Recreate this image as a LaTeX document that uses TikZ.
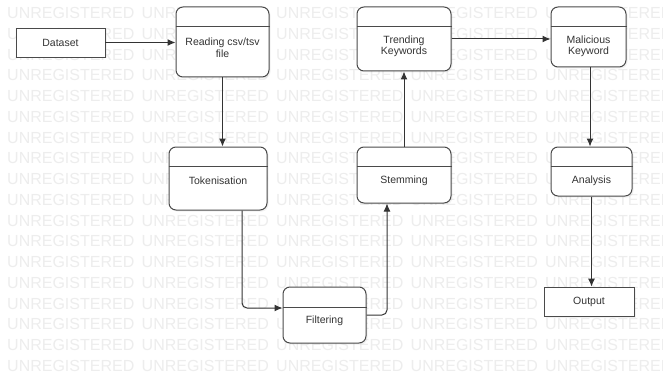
\documentclass[tikz,border=0pt]{standalone}
\usepackage{fontspec}
\setmainfont{Liberation Sans}
\usetikzlibrary{arrows.meta,calc,shadows}
\definecolor{linec}{HTML}{4A4A4A}
\definecolor{txtc}{HTML}{333333}
\definecolor{wmc}{HTML}{EDEDED}
\tikzset{
  procbox/.style={draw=linec, line width=1pt, fill=white, rounded corners=7pt, inner sep=0pt,
    drop shadow={opacity=0.10, shadow xshift=1.5pt, shadow yshift=-1.5pt}},
  plainbox/.style={draw=linec, line width=0.9pt, fill=white, inner sep=0pt,
    drop shadow={opacity=0.10, shadow xshift=1.5pt, shadow yshift=-1.5pt}},
  lbl/.style={text=txtc, font=\fontsize{10.5}{11.5}\selectfont, align=center, inner sep=0pt},
  divider/.style={draw=linec, line width=0.9pt},
  arr/.style={draw=txtc, line width=1pt, -{Latex[length=8pt,width=7pt]}},
  wmark/.style={text=wmc, font=\fontsize{16}{16}\selectfont, anchor=west, inner sep=0pt}
}
\begin{document}
\begin{tikzpicture}[x=1pt,y=-1pt]
\useasboundingbox (0,0) rectangle (663,377);
\fill[white] (0,0) rectangle (663,377);
\begin{scope}
\clip (0,0) rectangle (663,377);
\foreach \i in {0,...,17}{
  \foreach \j in {0,...,4}{
    \node[wmark] (wm-\i-\j) at ({7+134.5*\j},{13+20.75*\i}) {UNREGISTERED};
  }
}
\end{scope}

% boxes
\node[plainbox, minimum width=89pt, minimum height=29pt] (data) at (60.5,42.5) {};
\node[procbox, minimum width=93pt, minimum height=70pt] (read) at (222.5,42) {};
\node[procbox, minimum width=98pt, minimum height=63pt] (tok) at (218,178.5) {};
\node[procbox, minimum width=83pt, minimum height=56pt] (filt) at (324.5,315) {};
\node[procbox, minimum width=94pt, minimum height=56pt] (stem) at (404,175) {};
\node[procbox, minimum width=94pt, minimum height=64pt] (trend) at (404,39) {};
\node[procbox, minimum width=75pt, minimum height=60pt] (mal) at (588.5,37) {};
\node[procbox, minimum width=81pt, minimum height=49pt] (ana) at (591.5,171.5) {};
\node[plainbox, minimum width=90pt, minimum height=29pt] (out) at (589,301.5) {};

% dividers
\foreach \b/\d in {read/20, tok/20, filt/21, stem/20, trend/20, mal/20, ana/20}{
  \draw[divider] ($(\b.north west)+(0,\d)$) -- ($(\b.north east)+(0,\d)$);
}

% labels
\node[lbl] (dataT) at (60.5,42.5) {Dataset};
\node[lbl] (readT) at (222.5,47.5) {Reading csv/tsv\\file};
\node[lbl] (tokT) at (218,181) {Tokenisation};
\node[lbl] (filtT) at (324.5,321) {Filtering};
\node[lbl] (stemT) at (404,181) {Stemming};
\node[lbl] (trendT) at (404,46.5) {Trending\\Keywords};
\node[lbl] (malT) at (588.5,46.5) {Malicious\\Keyword};
\node[lbl] (anaT) at (591.5,181) {Analysis};
\node[lbl] (outT) at (589,301.5) {Output};

% connector anchor points
\coordinate (tokS) at ($(tok.south)+(24,0)$);
\coordinate (filtW) at ($(filt.west)+(0,-7)$);
\coordinate (stemS) at ($(stem.south)+(-17,0)$);
\coordinate (malS) at ($(mal.south)+(1.5,0)$);

% connectors
\draw[arr] (data.east) -- (data.east -| read.west);
\draw[arr] (read.south) -- (read.south |- tok.north);
\draw[arr, rounded corners=5pt] (tokS) |- (filtW);
\draw[arr, rounded corners=5pt] (filt.east) -| (stemS);
\draw[arr] (stem.north) -- (trend.south);
\draw[arr] (trend.east) -- (trend.east -| mal.west);
\draw[arr] (malS) -- (malS |- ana.north);
\draw[arr] (ana.south) -- (ana.south |- out.north);
\end{tikzpicture}
\end{document}
